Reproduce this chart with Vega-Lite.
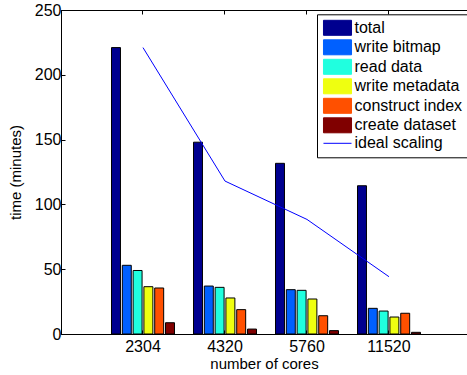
{
  "$schema": "https://vega.github.io/schema/vega-lite/v6.json",
  "width": 406,
  "height": 324,
  "autosize": {"type": "none"},
  "padding": {"left": 61, "top": 10, "right": 0, "bottom": 41},
  "background": "white",
  "config": {
    "font": "Liberation Sans",
    "view": {"stroke": "black", "strokeWidth": 1},
    "axis": {
      "domainColor": "black",
      "tickColor": "black",
      "labelColor": "black",
      "titleColor": "black",
      "grid": false,
      "labelFont": "Liberation Sans",
      "titleFont": "Liberation Sans",
      "labelFontSize": 16,
      "titleFontSize": 15,
      "titleFontWeight": "normal"
    },
    "legend": {
      "orient": "none",
      "legendX": 256,
      "legendY": 4.3,
      "padding": 5.5,
      "strokeColor": "black",
      "fillColor": "white",
      "symbolSize": 225,
      "symbolOffset": 7,
      "labelFont": "Liberation Sans",
      "labelFontSize": 16,
      "labelColor": "black",
      "labelOffset": 9,
      "rowPadding": -0.5,
      "symbolType": "M-1.87,-1H1.87V1H-1.87Z",
      "symbolStrokeColor": "black",
      "symbolStrokeWidth": 1,
      "symbolOpacity": 1
    }
  },
  "datasets": {
    "bars": [
      {"cores": "2304", "task": "total", "time": 221},
      {"cores": "2304", "task": "write bitmap", "time": 53},
      {"cores": "2304", "task": "read data", "time": 49},
      {"cores": "2304", "task": "write metadata", "time": 36.5},
      {"cores": "2304", "task": "construct index", "time": 35.5},
      {"cores": "2304", "task": "create dataset", "time": 8.7},
      {"cores": "4320", "task": "total", "time": 148},
      {"cores": "4320", "task": "write bitmap", "time": 37},
      {"cores": "4320", "task": "read data", "time": 36},
      {"cores": "4320", "task": "write metadata", "time": 27.8},
      {"cores": "4320", "task": "construct index", "time": 18.8},
      {"cores": "4320", "task": "create dataset", "time": 3.8},
      {"cores": "5760", "task": "total", "time": 131.7},
      {"cores": "5760", "task": "write bitmap", "time": 34.2},
      {"cores": "5760", "task": "read data", "time": 33.7},
      {"cores": "5760", "task": "write metadata", "time": 27},
      {"cores": "5760", "task": "construct index", "time": 14.1},
      {"cores": "5760", "task": "create dataset", "time": 2.6},
      {"cores": "11520", "task": "total", "time": 114.4},
      {"cores": "11520", "task": "write bitmap", "time": 19.8},
      {"cores": "11520", "task": "read data", "time": 17.7},
      {"cores": "11520", "task": "write metadata", "time": 13.1},
      {"cores": "11520", "task": "construct index", "time": 16},
      {"cores": "11520", "task": "create dataset", "time": 1.3}
    ],
    "ideal": [
      {"cores": "2304", "ideal": 221},
      {"cores": "4320", "ideal": 118},
      {"cores": "5760", "ideal": 88.4},
      {"cores": "11520", "ideal": 44.2}
    ]
  },
  "layer": [
    {
      "data": {"name": "bars"},
      "mark": {"type": "bar", "stroke": "black", "strokeWidth": 1},
      "encoding": {
        "x": {
          "field": "cores", "type": "nominal",
          "sort": ["2304", "4320", "5760", "11520"],
          "scale": {"paddingInner": 0, "paddingOuter": 0.4756, "align": 0.5256},
          "axis": {"orient": "bottom", "title": "number of cores", "labelAngle": 0, "tickSize": -4, "labelPadding": 8, "titlePadding": 2}
        },
        "xOffset": {
          "field": "task", "type": "nominal",
          "sort": ["total", "write bitmap", "read data", "write metadata", "construct index", "create dataset"],
          "scale": {"paddingInner": 0.17, "paddingOuter": 0.88}
        },
        "y": {
          "field": "time", "type": "quantitative",
          "scale": {"domain": [0, 250], "nice": false},
          "axis": {"title": "time (minutes)", "values": [0, 50, 100, 150, 200, 250], "tickSize": -4, "labelPadding": 4, "titlePadding": 11}
        },
        "color": {
          "field": "task", "type": "nominal",
          "scale": {
            "domain": ["total", "write bitmap", "read data", "write metadata", "construct index", "create dataset", "ideal scaling"],
            "range": ["#00008F", "#0060FF", "#20FFDF", "#EFFF10", "#FF5000", "#800000", "#0000FF"]
          },
          "legend": {
            "title": null,
            "encode": {
              "symbols": {
                "update": {
                  "shape": {"signal": "datum.value === 'ideal scaling' ? 'M-1.87,0H1.87' : 'M-1.87,-1H1.87V1H-1.87Z'"},
                  "fill": {"signal": "datum.value === 'ideal scaling' ? 'transparent' : scale('color', datum.value)"},
                  "stroke": {"signal": "datum.value === 'ideal scaling' ? '#0000FF' : '#000000'"}
                }
              }
            }
          }
        }
      }
    },
    {
      "data": {"name": "ideal"},
      "mark": {"type": "line", "strokeWidth": 1},
      "encoding": {
        "x": {
          "field": "cores", "type": "nominal",
          "sort": ["2304", "4320", "5760", "11520"],
          "axis": {"orient": "top", "labels": false, "title": null, "tickSize": -4, "domain": true, "ticks": true}
        },
        "y": {"field": "ideal", "type": "quantitative"},
        "color": {
          "datum": "ideal scaling", "type": "nominal",
          "legend": {
            "title": null,
            "encode": {
              "symbols": {
                "update": {
                  "shape": {"signal": "datum.value === 'ideal scaling' ? 'M-1.87,0H1.87' : 'M-1.87,-1H1.87V1H-1.87Z'"},
                  "fill": {"signal": "datum.value === 'ideal scaling' ? 'transparent' : scale('color', datum.value)"},
                  "stroke": {"signal": "datum.value === 'ideal scaling' ? '#0000FF' : '#000000'"}
                }
              }
            }
          }
        }
      }
    }
  ],
  "resolve": {"axis": {"x": "independent"}}
}
